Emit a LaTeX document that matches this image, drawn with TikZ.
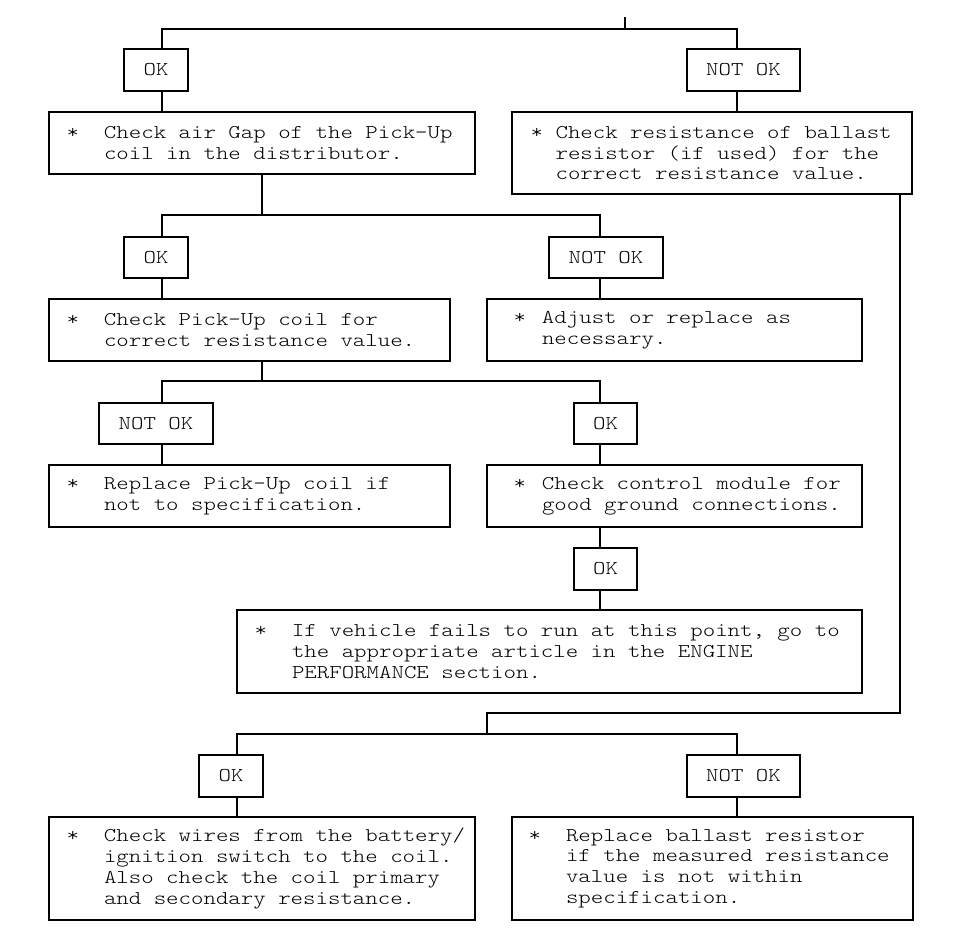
\documentclass[tikz,border=0pt]{standalone}
\usepackage{fontspec}
\newfontfamily\courfam{lmmonolt10-regular}[Extension=.otf, FakeStretch=1.216]
\newcommand\cour{\courfam}
\newcommand\bul[1]{\makebox[#1][l]{*}}
\newcommand\ind[1]{\hspace*{#1}}
\tikzset{
  ln/.style={line width=1.1pt, line cap=rect},
  boxst/.style={draw, line width=1.1pt, inner sep=0pt, rectangle},
  sz/.style 2 args={minimum width=#1pt, minimum height=#2pt},
  tag/.style={boxst, font=\cour\fontsize{19.5pt}{20.8pt}\selectfont},
  txt/.style={anchor=west, inner sep=0pt, align=left, font=\cour\fontsize{19.5pt}{20.8pt}\selectfont}
}
\begin{document}
\begin{tikzpicture}[x=1pt, y=-1pt]
\useasboundingbox (0,0) rectangle (970,941);
\fill[white] (0,0) rectangle (970,941);

% boxes
\node[tag, sz={64}{42}]  (ok1)  at (156,70) {OK};
\node[tag, sz={113}{42}] (nok1) at (743.5,70) {NOT OK};
\node[boxst, sz={426}{62}] (bair) at (262,143) {};
\node[boxst, sz={400}{82}] (bbal) at (712,153) {};
\node[tag, sz={64}{41}]  (ok2)  at (156,257.5) {OK};
\node[tag, sz={114}{41}] (nok2) at (606,257.5) {NOT OK};
\node[boxst, sz={401}{62}] (bpick) at (249.5,330) {};
\node[boxst, sz={375}{62}] (badj) at (674.5,330) {};
\node[tag, sz={114}{41}] (nok3) at (156,423.5) {NOT OK};
\node[tag, sz={63}{41}]  (ok3)  at (605.5,423.5) {OK};
\node[boxst, sz={401}{62}] (brep) at (249.5,496) {};
\node[boxst, sz={375}{62}] (bctl) at (674.5,496) {};
\node[tag, sz={63}{42}]  (ok4)  at (605.5,569) {OK};
\node[boxst, sz={625}{83}] (bif) at (549.5,651.5) {};
\node[tag, sz={64}{42}]  (ok5)  at (231,776) {OK};
\node[tag, sz={113}{42}] (nok5) at (743.5,776) {NOT OK};
\node[boxst, sz={426}{103}] (bwire) at (262,868.5) {};
\node[boxst, sz={401}{103}] (brbal) at (712.5,868.5) {};

% texts
\node[txt] (tair) at ([xshift=18pt]bair.west)
  {\bul{37.35pt}Check air Gap of the Pick-Up\\\ind{37.35pt}coil in the distributor.};
\node[txt] (tbal) at ([xshift=19pt]bbal.west)
  {\bul{24.9pt}Check resistance of ballast\\\ind{24.9pt}resistor (if used) for the\\\ind{24.9pt}correct resistance value.};
\node[txt] (tpick) at ([xshift=18pt]bpick.west)
  {\bul{37.35pt}Check Pick-Up coil for\\\ind{37.35pt}correct resistance value.};
\node[txt] (tadj) at ([xshift=18pt]badj.west)
  {\makebox[37.35pt][l]{\hspace*{9pt}*}Adjust or replace as\\\ind{37.35pt}necessary.};
\node[txt] (trep) at ([xshift=18pt]brep.west)
  {\bul{37.35pt}Replace Pick-Up coil if\\\ind{37.35pt}not to specification.};
\node[txt] (tctl) at ([xshift=18pt]bctl.west)
  {\makebox[37.35pt][l]{\hspace*{9pt}*}Check control module for\\\ind{37.35pt}good ground connections.};
\node[txt] (tif) at ([xshift=18pt]bif.west)
  {\bul{37.35pt}If vehicle fails to run at this point, go to\\\ind{37.35pt}the appropriate article in the ENGINE\\\ind{37.35pt}PERFORMANCE section.};
\node[txt] (twire) at ([xshift=18pt]bwire.west)
  {\bul{37.35pt}Check wires from the battery/\\\ind{37.35pt}ignition switch to the coil.\\\ind{37.35pt}Also check the coil primary\\\ind{37.35pt}and secondary resistance.};
\node[txt] (trbal) at ([xshift=17pt]brbal.west)
  {\bul{37.35pt}Replace ballast resistor\\\ind{37.35pt}if the measured resistance\\\ind{37.35pt}value is not within\\\ind{37.35pt}specification.};

% junction coordinates
\coordinate (top) at (625,18);
\coordinate (j1L) at (162,29);
\coordinate (j1R) at (737,29);
\coordinate (j2) at (262,215);
\coordinate (j2L) at (162,215);
\coordinate (j2R) at (600,215);
\coordinate (j3) at (262,381);
\coordinate (j3L) at (162,381);
\coordinate (j3R) at (600,381);
\coordinate (jr) at (900,713);
\coordinate (j5) at (487,713);
\coordinate (j5c) at (487,734);
\coordinate (j5L) at (237,734);
\coordinate (j5R) at (737,734);

% connectors
\draw[ln] (top) -- (top |- j1L);
\draw[ln] (j1L |- ok1.north) -- (j1L) -- (j1R) -- (j1R |- nok1.north);
\draw[ln] (j1L |- ok1.south) -- (j1L |- bair.north);
\draw[ln] (j1R |- nok1.south) -- (j1R |- bbal.north);

\draw[ln] (j2 |- bair.south) -- (j2);
\draw[ln] (j2L |- ok2.north) -- (j2L) -- (j2R) -- (j2R |- nok2.north);
\draw[ln] (j2L |- ok2.south) -- (j2L |- bpick.north);
\draw[ln] (j2R |- nok2.south) -- (j2R |- badj.north);

\draw[ln] (j3 |- bpick.south) -- (j3);
\draw[ln] (j3L |- nok3.north) -- (j3L) -- (j3R) -- (j3R |- ok3.north);
\draw[ln] (j3L |- nok3.south) -- (j3L |- brep.north);
\draw[ln] (j3R |- ok3.south) -- (j3R |- bctl.north);
\draw[ln] (j3R |- bctl.south) -- (j3R |- ok4.north);
\draw[ln] (j3R |- ok4.south) -- (j3R |- bif.north);

\draw[ln] (jr |- bbal.south) -- (jr) -- (j5) -- (j5c);
\draw[ln] (j5L |- ok5.north) -- (j5L) -- (j5R) -- (j5R |- nok5.north);
\draw[ln] (j5L |- ok5.south) -- (j5L |- bwire.north);
\draw[ln] (j5R |- nok5.south) -- (j5R |- brbal.north);
\end{tikzpicture}
\end{document}
